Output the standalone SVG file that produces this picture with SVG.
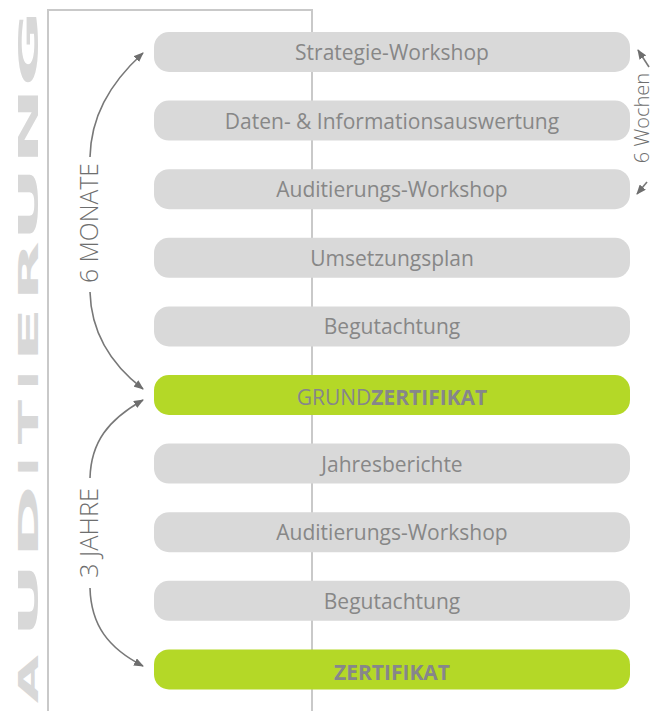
<svg xmlns="http://www.w3.org/2000/svg" width="656" height="711" viewBox="0 0 656 711">
<style>
.frame{fill:none;stroke:#c9c9c9;stroke-width:2}
.bar{fill:#d9d9d9}
.gbar{fill:#b4d827}
.bt{font-family:"Open Sans","Liberation Sans",sans-serif;font-size:21px;fill:#878787;text-anchor:middle}
.gt{font-family:"Open Sans","Liberation Sans",sans-serif;font-size:21px;fill:#86868b;text-anchor:middle}
.side{font-family:"Open Sans","Liberation Sans",sans-serif;font-weight:300;font-size:25px;fill:#6e6e6e;text-anchor:middle}
.wk{font-family:"Open Sans","Liberation Sans",sans-serif;font-weight:300;font-size:20px;fill:#6e6e6e;text-anchor:middle}
.big{font-family:"DejaVu Sans",sans-serif;font-weight:bold;font-size:26px;fill:#d8d8d8;text-anchor:middle}
.arr{fill:none;stroke:#787878;stroke-width:1.6;marker-end:url(#ah)}
</style>
<defs>
<marker id="ah" markerUnits="userSpaceOnUse" markerWidth="10" markerHeight="8" refX="9" refY="4" orient="auto">
<path d="M0,0 L10,4 L0,8 z" fill="#6e6e6e"/>
</marker>
</defs>
<rect width="656" height="711" fill="#ffffff"/>
<g id="frame">
<path class="frame" d="M48,711 V10 H312 V711"/>
</g>
<g id="title">
<text class="big" transform="translate(38,679) rotate(-90) scale(2.4,1)">A</text>
<text class="big" transform="translate(38,600) rotate(-90) scale(3.6,1)">U</text>
<text class="big" transform="translate(38,521.5) rotate(-90) scale(3.4,1)">D</text>
<text class="big" transform="translate(38,466.5) rotate(-90) scale(2,1)">I</text>
<text class="big" transform="translate(38,422) rotate(-90) scale(2.5,1)">T</text>
<text class="big" transform="translate(38,380) rotate(-90) scale(2,1)">I</text>
<text class="big" transform="translate(38,334.5) rotate(-90) scale(3.1,1)">E</text>
<text class="big" transform="translate(38,271) rotate(-90) scale(3,1)">R</text>
<text class="big" transform="translate(38,204) rotate(-90) scale(3.6,1)">U</text>
<text class="big" transform="translate(38,126) rotate(-90) scale(3.6,1)">N</text>
<text class="big" transform="translate(38,48.5) rotate(-90) scale(3.6,1)">G</text>
</g>
<g id="n1"><rect class="bar" x="154" y="32" width="476" height="40" rx="15"/><text class="bt" x="392" y="60">Strategie-Workshop</text></g>
<g id="n2"><rect class="bar" x="154" y="100.6" width="476" height="40" rx="15"/><text class="bt" x="392" y="128.6">Daten- &amp; Informationsauswertung</text></g>
<g id="n3"><rect class="bar" x="154" y="169.2" width="476" height="40" rx="15"/><text class="bt" x="392" y="197.2">Auditierungs-Workshop</text></g>
<g id="n4"><rect class="bar" x="154" y="237.8" width="476" height="40" rx="15"/><text class="bt" x="392" y="265.8">Umsetzungsplan</text></g>
<g id="n5"><rect class="bar" x="154" y="306.4" width="476" height="40" rx="15"/><text class="bt" x="392" y="334.4">Begutachtung</text></g>
<g id="n6"><rect class="gbar" x="154" y="375" width="476" height="40" rx="15"/><text class="gt" x="392" y="405">GRUND<tspan font-weight="bold">ZERTIFIKAT</tspan></text></g>
<g id="n7"><rect class="bar" x="154" y="443.6" width="476" height="40" rx="15"/><text class="bt" x="392" y="471.6">Jahresberichte</text></g>
<g id="n8"><rect class="bar" x="154" y="512.2" width="476" height="40" rx="15"/><text class="bt" x="392" y="540.2">Auditierungs-Workshop</text></g>
<g id="n9"><rect class="bar" x="154" y="580.8" width="476" height="40" rx="15"/><text class="bt" x="392" y="608.8">Begutachtung</text></g>
<g id="n10"><rect class="gbar" x="154" y="649.4" width="476" height="40" rx="15"/><text class="gt" x="392" y="680" font-weight="bold">ZERTIFIKAT</text></g>
<g id="connectors">
<path class="arr" d="M90,157 C91,118 108,85 143,53"/>
<path class="arr" d="M90,292 C91,330 108,362 143,389"/>
<path class="arr" d="M90,478 C91,442 108,420 143,400"/>
<path class="arr" d="M90,588 C91,625 108,648 143,666"/>
<path class="arr" d="M649,67 L638,50"/>
<path class="arr" d="M647,182 L637,194"/>
<text class="side" transform="translate(98,223) rotate(-90)" textLength="120" lengthAdjust="spacingAndGlyphs">6 MONATE</text>
<text class="side" transform="translate(98,533) rotate(-90)" textLength="90" lengthAdjust="spacingAndGlyphs">3 JAHRE</text>
<text class="wk" transform="translate(649,118) rotate(-90)">6 Wochen</text>
</g>
</svg>
